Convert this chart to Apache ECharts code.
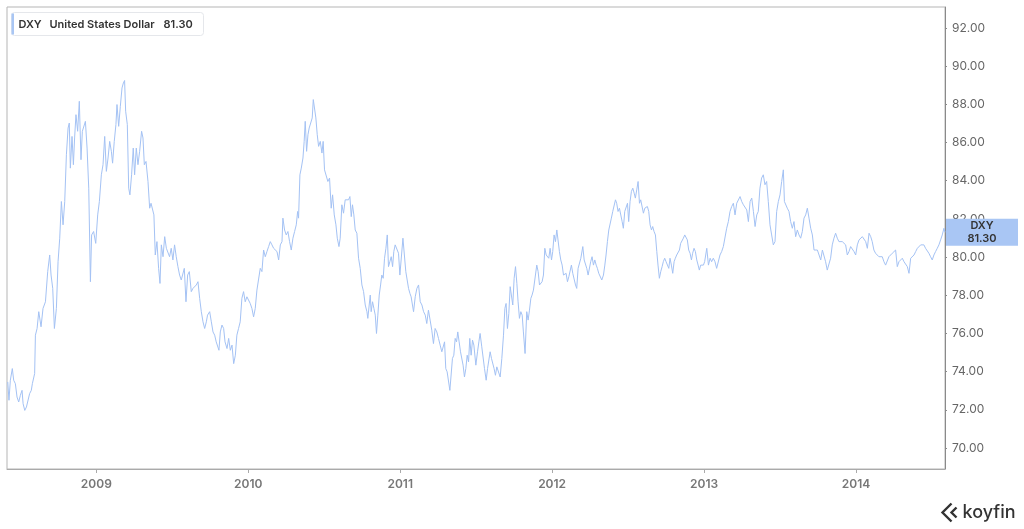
<!DOCTYPE html>
<html>
<head>
<meta charset="utf-8">
<script src="https://cdn.jsdelivr.net/npm/echarts@6/dist/echarts.min.js"></script>
<style>
html,body{margin:0;padding:0;background:#fff;}
#chart{width:1024px;height:529px;}
</style>
</head>
<body>
<div id="chart"></div>
<script>
// Decimal-year positions of the readings
const years = [
2008.417,2008.425,2008.434,2008.447,2008.456,2008.467,2008.478,2008.489,2008.500,2008.511,
2008.518,2008.529,2008.540,2008.548,2008.561,2008.572,2008.579,2008.588,2008.594,2008.599,
2008.610,2008.621,2008.636,2008.649,2008.665,2008.680,2008.693,2008.702,2008.713,2008.724,
2008.737,2008.748,2008.759,2008.770,2008.781,2008.792,2008.803,2008.814,2008.822,2008.829,
2008.840,2008.849,2008.857,2008.866,2008.877,2008.888,2008.899,2008.908,2008.917,2008.928,
2008.939,2008.950,2008.961,2008.969,2008.982,2008.996,2009.009,2009.020,2009.033,2009.044,
2009.055,2009.066,2009.077,2009.088,2009.099,2009.107,2009.118,2009.129,2009.136,2009.147,
2009.158,2009.169,2009.178,2009.186,2009.193,2009.204,2009.213,2009.221,2009.232,2009.243,
2009.252,2009.263,2009.274,2009.285,2009.298,2009.307,2009.316,2009.327,2009.340,2009.351,
2009.360,2009.371,2009.379,2009.388,2009.399,2009.410,2009.419,2009.428,2009.439,2009.450,
2009.461,2009.472,2009.482,2009.493,2009.504,2009.515,2009.526,2009.537,2009.548,2009.559,
2009.570,2009.579,2009.590,2009.601,2009.612,2009.625,2009.636,2009.647,2009.658,2009.669,
2009.680,2009.691,2009.702,2009.713,2009.724,2009.732,2009.746,2009.757,2009.768,2009.779,
2009.789,2009.798,2009.807,2009.816,2009.827,2009.838,2009.847,2009.860,2009.871,2009.882,
2009.893,2009.904,2009.915,2009.925,2009.936,2009.947,2009.958,2009.969,2009.980,2009.991,
2010.002,2010.013,2010.024,2010.035,2010.046,2010.057,2010.068,2010.079,2010.090,2010.101,
2010.112,2010.123,2010.134,2010.145,2010.156,2010.167,2010.178,2010.189,2010.200,2010.211,
2010.222,2010.228,2010.239,2010.250,2010.261,2010.272,2010.283,2010.294,2010.305,2010.316,
2010.325,2010.331,2010.340,2010.349,2010.360,2010.368,2010.375,2010.384,2010.393,2010.401,
2010.412,2010.421,2010.428,2010.436,2010.445,2010.454,2010.463,2010.474,2010.485,2010.493,
2010.502,2010.513,2010.524,2010.535,2010.546,2010.555,2010.566,2010.577,2010.586,2010.597,
2010.605,2010.616,2010.627,2010.638,2010.649,2010.660,2010.669,2010.678,2010.686,2010.695,
2010.704,2010.715,2010.726,2010.737,2010.748,2010.759,2010.770,2010.781,2010.787,2010.796,
2010.803,2010.809,2010.818,2010.827,2010.836,2010.844,2010.853,2010.862,2010.871,2010.879,
2010.888,2010.897,2010.906,2010.915,2010.923,2010.932,2010.941,2010.950,2010.958,2010.967,
2010.978,2010.989,2010.998,2011.007,2011.018,2011.026,2011.037,2011.046,2011.055,2011.064,
2011.072,2011.081,2011.088,2011.099,2011.110,2011.121,2011.132,2011.143,2011.154,2011.165,
2011.175,2011.186,2011.197,2011.208,2011.219,2011.230,2011.241,2011.252,2011.263,2011.274,
2011.285,2011.292,2011.300,2011.309,2011.318,2011.327,2011.336,2011.344,2011.353,2011.362,
2011.371,2011.379,2011.388,2011.397,2011.406,2011.414,2011.423,2011.432,2011.441,2011.450,
2011.458,2011.467,2011.476,2011.485,
2011.498,2011.509,2011.518,2011.526,2011.537,2011.546,2011.555,2011.566,2011.575,2011.583,
2011.592,2011.601,2011.610,2011.618,2011.627,2011.636,2011.647,2011.658,2011.669,2011.680,
2011.689,2011.697,2011.706,2011.715,2011.724,2011.732,2011.741,2011.750,2011.759,2011.768,
2011.776,2011.785,2011.794,2011.803,2011.811,2011.822,2011.833,2011.842,2011.851,2011.860,
2011.868,2011.877,2011.888,2011.899,2011.908,2011.917,2011.925,2011.934,2011.943,2011.952,
2011.961,2011.969,2011.978,2011.987,2011.996,2012.004,
2012.013,2012.022,2012.031,2012.040,2012.048,2012.057,2012.066,2012.075,2012.083,2012.092,
2012.101,2012.110,2012.118,2012.127,2012.136,2012.145,2012.154,2012.162,2012.171,2012.180,
2012.189,2012.197,2012.202,2012.211,2012.219,2012.228,2012.237,2012.246,2012.254,2012.263,
2012.272,2012.281,2012.290,2012.298,2012.307,2012.316,2012.327,2012.338,2012.347,2012.355,
2012.364,2012.373,2012.382,2012.390,2012.399,2012.408,2012.417,2012.425,2012.434,2012.443,
2012.452,2012.461,2012.469,2012.478,2012.487,2012.496,2012.504,2012.513,2012.522,2012.531,
2012.540,2012.548,2012.557,2012.566,2012.575,2012.583,2012.592,2012.601,2012.610,2012.618,
2012.627,2012.636,2012.645,2012.654,2012.662,2012.671,2012.680,2012.689,2012.697,2012.706,
2012.715,2012.724,2012.732,2012.741,2012.750,2012.759,2012.768,2012.776,2012.785,2012.794,
2012.803,2012.811,2012.820,2012.829,2012.838,2012.846,2012.855,2012.864,2012.873,2012.882,
2012.890,2012.899,2012.908,2012.917,2012.925,2012.934,2012.943,2012.952,2012.961,2012.969,
2012.978,2012.987,2012.996,2013.004,
2013.018,2013.029,2013.040,2013.050,2013.061,2013.072,2013.083,2013.094,2013.105,2013.116,
2013.127,2013.138,2013.149,2013.160,2013.171,2013.182,2013.193,2013.204,2013.215,2013.226,
2013.237,2013.248,2013.259,2013.270,2013.281,2013.292,2013.303,2013.314,2013.325,2013.336,
2013.347,2013.357,2013.368,2013.379,2013.390,2013.401,2013.412,2013.423,2013.434,2013.445,
2013.456,2013.467,2013.478,2013.489,2013.500,2013.511,2013.522,2013.529,2013.537,2013.548,
2013.559,2013.570,2013.581,2013.592,2013.603,2013.614,2013.625,2013.636,2013.647,2013.658,
2013.669,2013.680,2013.691,2013.702,2013.713,2013.724,2013.735,2013.746,2013.757,2013.768,
2013.779,2013.790,2013.800,2013.811,2013.822,2013.833,2013.844,2013.855,2013.866,2013.877,
2013.888,2013.899,2013.910,2013.921,2013.932,2013.943,2013.954,2013.965,2013.976,2013.987,
2013.998,2014.009,2014.020,2014.031,2014.042,2014.053,2014.064,2014.075,2014.086,2014.097,
2014.107,2014.118,2014.129,2014.140,2014.151,2014.162,2014.173,2014.184,2014.195,2014.206,
2014.217,2014.228,2014.239,2014.250,2014.261,2014.272,2014.283,2014.294,2014.305,2014.316,
2014.327,2014.338,2014.349,2014.360,2014.371,2014.382,2014.393,2014.404,2014.415,2014.426,
2014.436,2014.447,2014.458,2014.469,2014.480,2014.491,2014.502,2014.513,2014.524,2014.535,
2014.546,2014.557,2014.568,2014.579,2014.586
];

// DXY index readings
const dxy = [
73.46,72.50,73.55,74.16,73.55,73.37,72.67,72.41,72.76,73.02,
72.32,71.97,72.15,72.06,72.85,73.02,73.37,73.46,73.90,75.91,
76.26,77.14,76.35,77.31,77.66,79.24,80.11,79.06,78.36,76.26,
77.31,79.76,80.99,82.91,81.69,82.91,85.36,86.76,87.02,84.66,
86.32,84.84,86.24,87.46,86.59,88.16,85.10,86.59,86.67,87.11,
85.71,83.61,78.71,81.16,81.34,80.72,82.21,82.91,84.31,84.84,
86.32,84.49,85.19,86.06,85.54,84.92,86.06,86.94,87.99,86.85,
87.90,88.86,89.12,89.25,87.64,86.94,83.61,83.26,84.31,85.71,
84.31,85.71,84.84,85.54,86.59,86.24,84.84,85.01,83.96,82.56,
82.82,82.91,82.21,80.11,80.81,79.41,78.62,80.64,80.02,81.07,
80.46,80.55,80.02,80.46,79.85,80.64,80.02,79.50,79.06,78.80,
78.71,79.41,77.66,79.06,79.24,78.19,78.36,78.27,78.54,78.71,
77.84,77.14,76.61,76.26,76.61,76.96,77.14,76.61,76.08,75.91,
75.56,75.47,75.12,76.08,76.44,76.26,75.56,75.21,75.74,75.12,
75.39,74.42,74.86,75.91,76.26,76.61,77.84,78.19,77.66,77.92,
77.84,77.57,77.31,76.87,77.31,78.27,78.36,79.41,79.24,80.37,
80.02,80.29,80.55,80.81,80.64,80.46,80.55,80.29,79.85,80.64,
80.81,82.04,81.42,81.16,81.34,80.81,80.37,80.99,81.34,81.69,
82.39,82.04,84.31,84.66,85.19,86.06,87.11,85.54,86.41,86.76,
86.67,87.29,88.25,88.34,87.29,86.41,85.80,86.06,85.45,86.06,
84.57,84.49,83.96,84.14,82.56,83.26,82.21,81.69,80.99,80.55,
80.99,82.74,82.30,83.00,83.09,83.00,83.17,82.12,82.74,82.21,
81.42,81.25,79.94,79.41,78.54,78.19,77.49,77.14,76.79,77.49,
78.01,77.14,77.66,77.31,76.96,76.00,76.96,78.01,78.54,79.06,
78.89,79.94,80.46,81.16,79.50,79.76,80.02,79.50,80.29,80.64,
80.55,80.20,79.06,79.15,80.99,80.90,79.24,79.15,78.36,78.10,
77.92,78.01,77.14,77.92,78.36,78.54,77.66,77.49,77.14,76.96,
76.52,77.22,76.70,76.17,75.47,76.26,76.08,75.74,75.39,75.04,
74.95,75.56,74.16,73.99,73.99,73.02,73.11,74.69,74.86,75.74,
75.56,76.08,75.56,75.04,74.95,74.34,73.72,74.16,74.86,74.51,
75.74,74.86,75.65,75.39,
74.34,75.04,75.56,76.00,75.30,75.39,74.16,73.55,74.16,74.07,
75.04,74.69,74.69,74.16,73.81,74.25,74.16,73.72,74.69,75.91,
77.31,77.57,76.26,77.05,78.45,78.36,77.49,78.89,79.50,78.62,
77.66,76.79,77.14,76.96,76.08,74.95,77.14,76.70,77.22,77.84,
78.01,78.27,78.36,79.58,79.24,78.54,78.54,78.71,79.06,80.46,
80.11,80.02,79.94,80.46,79.85,80.29,
81.16,80.81,81.42,81.51,80.29,79.85,79.58,79.06,78.97,79.15,
78.71,78.97,79.06,79.58,79.15,79.06,78.54,78.36,79.41,79.41,
79.94,80.02,80.55,79.85,79.85,79.41,79.06,79.06,79.76,80.02,
79.58,79.85,79.58,79.41,79.15,79.06,78.80,79.06,79.58,80.11,
80.81,81.42,81.34,82.04,82.39,82.47,83.00,82.82,82.39,82.56,
82.47,81.86,81.51,82.39,82.47,82.82,81.86,82.91,83.44,83.61,
83.35,83.09,83.52,83.96,82.82,83.00,82.91,82.30,82.56,82.56,
82.65,82.39,81.69,81.42,81.60,81.34,81.16,80.29,79.58,78.89,
79.24,79.50,79.76,79.94,79.76,79.85,79.41,79.94,79.58,79.15,
79.76,79.94,80.11,80.02,80.37,80.72,80.81,80.99,81.16,81.16,
80.90,80.37,80.20,79.85,80.20,80.46,80.29,79.85,79.58,79.32,
79.58,79.67,79.58,79.76,
80.46,79.58,79.94,79.76,79.94,79.76,79.41,79.32,80.11,80.29,
80.55,80.64,81.51,81.86,82.39,82.65,82.82,82.21,82.82,82.91,
83.17,82.91,82.74,82.65,82.47,81.86,82.91,83.09,82.39,81.60,
82.21,82.39,83.61,84.14,84.31,83.79,83.96,82.91,81.69,81.16,
80.64,80.81,82.39,82.91,83.26,83.96,84.57,82.91,82.91,82.56,
82.39,81.86,81.51,81.86,81.07,81.42,81.16,80.99,81.34,82.04,
82.21,82.56,82.04,81.51,81.16,80.37,80.46,80.37,80.11,79.85,
80.37,80.46,79.76,79.32,79.24,79.94,80.64,80.99,81.25,80.99,
80.81,80.90,80.81,80.90,80.64,80.11,80.29,80.55,80.55,80.29,
80.11,80.64,80.90,80.81,81.07,81.16,80.81,80.46,81.25,81.07,
80.81,80.37,80.20,80.29,80.02,79.94,80.02,79.76,79.58,79.50,
80.02,80.11,80.20,80.29,80.37,79.50,79.76,79.85,79.94,79.76,
79.67,79.50,79.15,79.94,80.02,80.11,80.29,80.46,80.46,80.64,
80.72,80.64,80.46,80.37,80.20,80.02,79.85,80.11,80.29,80.46,
80.64,80.90,81.16,81.51,81.30
];

// Tick labels
const yearTicks = [2009, 2010, 2011, 2012, 2013, 2014];
const valueTicks = [70, 72, 74, 76, 78, 80, 82, 84, 86, 88, 90, 92];

const seriesCode = 'DXY';
const seriesName = 'United States Dollar';
const lastValueLabel = '81.30';
const yearRange = [2008.412, 2014.586];
const valueRange = [68.9, 93.1];

const lineColor = '#a4c2f4';
const tagColor = '#a9c6f4';
const font = 'Inter, "Noto Sans", sans-serif';

const n = Math.min(years.length, dxy.length);
const data = [];
for (let i = 0; i < n; i++) data.push([years[i], dxy[i]]);
const last = data[data.length - 1];

const chart = echarts.init(document.getElementById('chart'), null, {renderer: 'canvas'});
chart.setOption({
  animation: false,
  backgroundColor: '#ffffff',
  grid: {left: 7, right: 79, top: 7, bottom: 60, show: true, borderColor: '#b5b5b5', borderWidth: 1, backgroundColor: 'transparent'},
  xAxis: {
    type: 'value',
    min: yearRange[0], max: yearRange[1],
    axisLine: {show: true, lineStyle: {color: '#aaaaaa', width: 1}},
    axisTick: {show: true, length: 4, lineStyle: {color: '#aaaaaa'}, customValues: yearTicks},
    splitLine: {show: false},
    axisLabel: {
      margin: 9, color: '#777777', fontSize: 12, fontWeight: 600, fontFamily: font,
      customValues: yearTicks,
      formatter: v => String(Math.round(v))
    }
  },
  yAxis: {
    type: 'value', position: 'right',
    min: valueRange[0], max: valueRange[1],
    axisLine: {show: true, lineStyle: {color: '#8a8a8a', width: 1}},
    axisTick: {show: true, length: 2, lineStyle: {color: '#8a8a8a'}, customValues: valueTicks},
    splitLine: {show: false},
    axisLabel: {
      margin: 7, color: '#666666', fontSize: 12, fontFamily: font,
      customValues: valueTicks,
      formatter: v => Number(v).toFixed(2)
    }
  },
  series: [{
    name: seriesCode,
    type: 'line',
    data: data,
    showSymbol: false,
    symbol: 'none',
    sampling: null,
    lineStyle: {color: lineColor, width: 1},
    markPoint: {
      silent: true,
      symbol: 'rect',
      symbolSize: [72, 27],
      symbolOffset: [37, 0],
      itemStyle: {color: tagColor},
      label: {
        show: true, position: 'inside',
        formatter: seriesCode + '\n' + lastValueLabel,
        color: '#333333', fontSize: 11, fontWeight: 600, lineHeight: 13, fontFamily: font
      },
      data: [{coord: last}]
    }
  }],
  graphic: [
    {
      type: 'group', left: 11, top: 12,
      children: [
        {type: 'rect', shape: {x: 0, y: 0, width: 192, height: 23, r: 3}, style: {fill: '#ffffff', stroke: '#e5e7eb', lineWidth: 1}},
        {type: 'rect', shape: {x: 0, y: 1, width: 2.5, height: 21}, style: {fill: tagColor}},
        {type: 'text', x: 7, y: 12, style: {text: seriesCode, fill: '#333333', font: '600 11px ' + font, verticalAlign: 'middle'}},
        {type: 'text', x: 38, y: 12, style: {text: seriesName, fill: '#333333', font: '600 11px ' + font, verticalAlign: 'middle'}},
        {type: 'text', x: 152, y: 12, style: {text: lastValueLabel, fill: '#333333', font: '600 11px ' + font, verticalAlign: 'middle'}}
      ]
    },
    {
      type: 'group', left: 940, top: 501,
      children: [
        {type: 'polyline', shape: {points: [[10, 0], [1, 9], [10, 18]]}, style: {stroke: '#333333', lineWidth: 2.4, fill: null}},
        {type: 'polyline', shape: {points: [[15, 4], [10, 9], [15, 14]]}, style: {stroke: '#333333', lineWidth: 2.4, fill: null}},
        {type: 'text', x: 21, y: 9, style: {text: 'koyfin', fill: '#333333', font: '500 18px ' + font, verticalAlign: 'middle'}}
      ]
    }
  ]
});
</script>
</body>
</html>
